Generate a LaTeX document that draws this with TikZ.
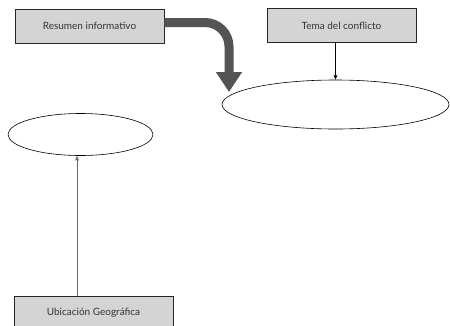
\documentclass[tikz,border=0pt]{standalone}
\usepackage{fontspec}
\setmainfont{Lato}
\usetikzlibrary{shapes,shapes.geometric,arrows,positioning,calc,arrows.meta}

\begin{document}
\begin{tikzpicture}[x=1pt, y=-1pt,
                    info block/.style={rectangle, draw=black!85, line width=0.6pt, fill=black!17, minimum width=149pt, minimum height=34pt, inner sep=0pt, font=\fontsize{10}{12}\selectfont, text=black!80},
                    info oval/.style={ellipse, draw, line width=0.6pt, inner sep=0pt},
                    info arrow/.style={-{Stealth[length=5pt,width=4pt]}, line width=0.6pt},
                    big arrow/.style={-{Triangle[length=20pt,width=25pt]}, line width=9pt, draw=black!67, rounded corners=24pt}]

    \useasboundingbox (0,0) rectangle (450,325);

    \node [info block] (resumen) at (89.5,26) {Resumen informativo};
    \node [info block] (tema) at (341.5,25.5) {Tema del conflicto};
    \node [info block, minimum width=159pt] (ubicacion) at (93.5,313) {Ubicación Geográfica};

    \node [info oval, minimum width=227pt, minimum height=49pt] (ovalder) at (335.5,104.5) {};
    \node [info oval, minimum width=145pt, minimum height=42pt] (ovalizq) at (80.5,134.5) {};

    \coordinate (punta) at (229,92);
    \draw [big arrow] (resumen.east |- 0,22.5) -| (punta);
    \draw [info arrow] (tema.south -| ovalder.north) -- (ovalder.north);
    \draw [info arrow, draw=black!60] (ubicacion.north -| 77,0) -- (ovalizq.south -| 77,0);

\end{tikzpicture}
\end{document}
